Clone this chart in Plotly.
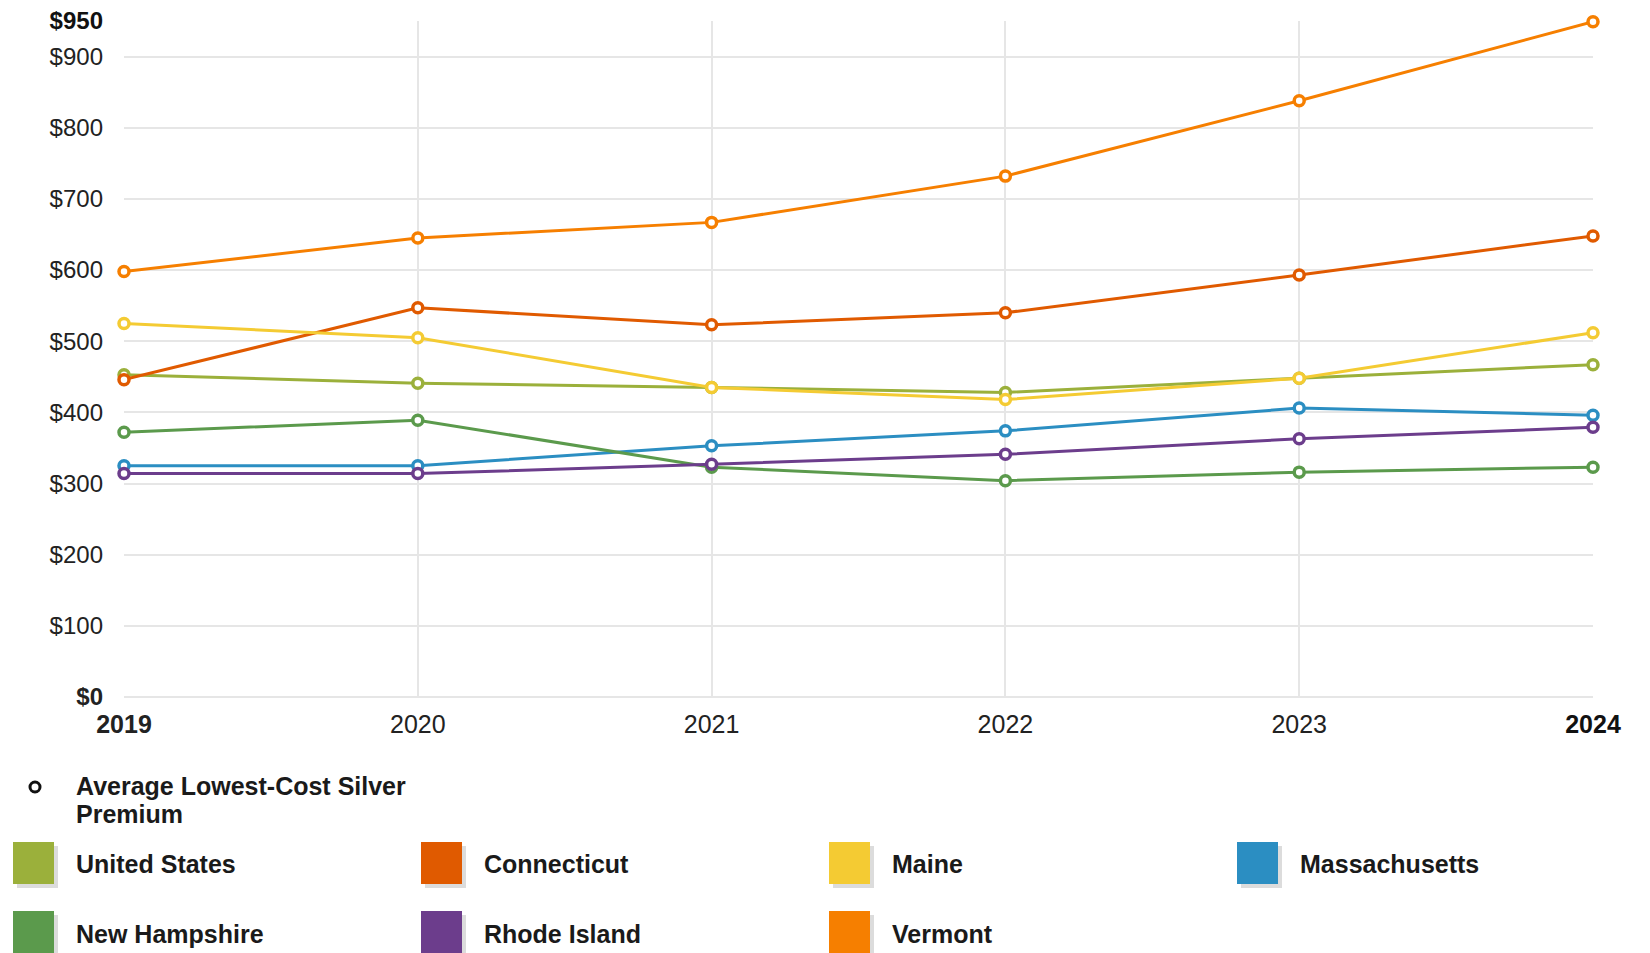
import plotly.graph_objects as go

years = [2019, 2020, 2021, 2022, 2023, 2024]
series_names = ["United States", "Connecticut", "Maine", "Massachusetts",
                "New Hampshire", "Rhode Island", "Vermont"]
united_states = [453, 441, 435, 428, 448, 467]
connecticut = [446, 547, 523, 540, 593, 648]
maine = [525, 505, 435, 418, 448, 512]
massachusetts = [325, 325, 353, 374, 406, 396]
new_hampshire = [372, 389, 323, 304, 316, 323]
rhode_island = [314, 314, 327, 341, 363, 379]
vermont = [598, 645, 667, 732, 838, 949]
series_values = [united_states, connecticut, maine, massachusetts,
                 new_hampshire, rhode_island, vermont]
colors = ["#9BB03B", "#E05A00", "#F4CB33", "#2B8EC2",
          "#5B9A4C", "#6C3D8C", "#F67F00"]
y_ticks = [0, 100, 200, 300, 400, 500, 600, 700, 800, 900]
y_labels = ["<b>$0</b>", "$100", "$200", "$300", "$400", "$500",
            "$600", "$700", "$800", "$900"]
y_top_tick = [950]
y_top_label = ["<b>$950</b>"]
x_labels = ["<b>2019</b>", "2020", "2021", "2022", "2023"]
x_last_label = ["<b>2024</b>"]
measure_label = ["Average Lowest-Cost Silver", "Premium"]

W, H = 1650, 953
PL, PR, PT, PB = 124, 1593, 21, 697
FONT = "Liberation Sans, Arial, sans-serif"

def px(x):
    return (x - PL) / (PR - PL)

def py(y):
    return (PB - y) / (PB - PT)

fig = go.Figure()
for i, (name, vals, col) in enumerate(zip(series_names, series_values, colors)):
    last = i == len(series_names) - 1
    fig.add_trace(go.Scatter(
        x=years, y=vals, name=name, mode="lines+markers",
        line=dict(color=col, width=3),
        marker=dict(symbol="circle", size=10, color="white",
                    line=dict(color=col, width=3.5)),
        cliponaxis=False, showlegend=False,
        xaxis="x2" if last else "x", yaxis="y2" if last else "y",
    ))

shapes = []
annotations = []

# legend: measure entry
shapes.append(dict(type="circle", xref="paper", yref="paper",
                   xsizemode="pixel", ysizemode="pixel",
                   xanchor=px(35), yanchor=py(787),
                   x0=-5, x1=5, y0=-5, y1=5,
                   line=dict(color="#111", width=3), fillcolor="white"))
for i, t in enumerate(measure_label):
    annotations.append(dict(text="<b>%s</b>" % t, xref="paper", yref="paper",
                            x=px(74), y=py(786 + i * 28), xanchor="left",
                            yanchor="middle", showarrow=False,
                            font=dict(family=FONT, size=25, color="#1a1a1a")))

# legend: series entries in a 4-column grid
col_sw = [13, 421, 829, 1237]
col_tx = [74, 482, 890, 1298]
row_top = [842, 911]
row_mid = [864, 934]
for i, (name, col) in enumerate(zip(series_names, colors)):
    r, c = divmod(i, 4)
    x0, y0 = col_sw[c], row_top[r]
    shapes.append(dict(type="rect", xref="paper", yref="paper",
                       x0=px(x0 + 4), x1=px(x0 + 45), y0=py(y0 + 4), y1=py(y0 + 46),
                       line=dict(width=0), fillcolor="#dcdcdc"))
    shapes.append(dict(type="rect", xref="paper", yref="paper",
                       x0=px(x0), x1=px(x0 + 41), y0=py(y0), y1=py(y0 + 42),
                       line=dict(width=0), fillcolor=col))
    annotations.append(dict(text="<b>%s</b>" % name, xref="paper", yref="paper",
                            x=px(col_tx[c]), y=py(row_mid[r]), xanchor="left",
                            yanchor="middle", showarrow=False,
                            font=dict(family=FONT, size=25, color="#1a1a1a")))

fig.update_layout(
    width=W, height=H,
    margin=dict(l=PL, r=W - PR, t=PT, b=H - PB, autoexpand=False),
    paper_bgcolor="white", plot_bgcolor="white",
    font=dict(family=FONT, size=24, color="#333"),
    showlegend=False,
    shapes=shapes, annotations=annotations,
    xaxis=dict(range=[2019, 2024], tickvals=years[:5], ticktext=x_labels,
               showgrid=True, gridcolor="#e6e6e6", gridwidth=2,
               zeroline=False, showline=False, ticks="", automargin=False,
               ticklabelstandoff=10,
               tickfont=dict(family=FONT, size=25, color="#222")),
    xaxis2=dict(range=[2019, 2024], overlaying="x", anchor="y",
                tickvals=years[-1:], ticktext=x_last_label, automargin=False,
                showgrid=False, zeroline=False, showline=False, ticks="",
                side="bottom", ticklabelstandoff=10,
                tickfont=dict(family=FONT, size=25, color="#111")),
    yaxis=dict(range=[0, 950], tickvals=y_ticks, ticktext=y_labels,
               showgrid=True, gridcolor="#e6e6e6", gridwidth=2,
               zeroline=True, zerolinecolor="#e6e6e6", zerolinewidth=2,
               showline=False, ticks="", ticklabelstandoff=20, automargin=False,
               tickfont=dict(family=FONT, size=24, color="#222")),
    yaxis2=dict(range=[0, 950], overlaying="y", anchor="x", side="left",
                tickvals=y_top_tick, ticktext=y_top_label, automargin=False,
                showgrid=False, zeroline=False, showline=False, ticks="",
                ticklabelstandoff=20,
                tickfont=dict(family=FONT, size=24, color="#111")),
)

fig.write_html("out.html", config={"displayModeBar": False},
               post_script="document.body.style.margin='0';"
                           "document.body.style.overflow='hidden';")
